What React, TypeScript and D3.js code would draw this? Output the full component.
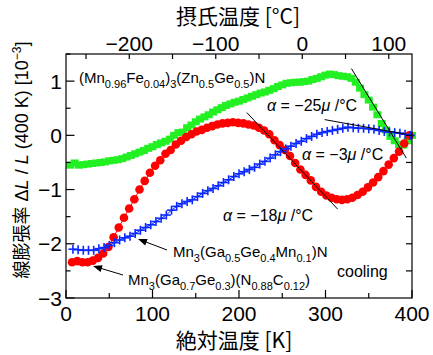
import React from "react";
import * as d3 from "d3";

// ---------- data ----------
const greenT = [5,10,15,20,25,30,35,40,45,50,55,60,65,70,75,80,85,90,95,100,105,110,115,120,125,130,135,140,145,150,155,160,165,170,175,180,185,190,195,200,205,210,215,220,225,230,235,240,245,250,255,260,265,270,275,280,285,290,295,300,305,310,315,320,325,330,335,340,345,350,355,360,365,370,375,380,385,390,395,400];
const greenV = [-0.55,-0.51,-0.55,-0.54,-0.53,-0.52,-0.51,-0.50,-0.49,-0.47,-0.46,-0.45,-0.43,-0.40,-0.37,-0.34,-0.31,-0.28,-0.24,-0.21,-0.17,-0.14,-0.11,-0.07,0.0,0.05,0.06,0.14,0.19,0.25,0.30,0.34,0.38,0.43,0.47,0.51,0.55,0.58,0.61,0.63,0.66,0.69,0.72,0.75,0.78,0.80,0.83,0.86,0.90,0.93,0.96,0.97,0.98,0.98,0.99,1.00,1.03,1.05,1.08,1.11,1.13,1.12,1.10,1.09,1.08,1.05,0.98,0.87,0.75,0.65,0.52,0.38,0.22,0.10,-0.02,-0.10,-0.17,-0.18,-0.10,0.0];

const redT = [7,13,19,25,31,37,43,49,55,61,67,73,79,85,91,97,103,109,115,121,127,133,139,145,151,157,163,169,175,181,187,193,199,205,211,217,223,229,235,241,247,253,259,265,271,277,283,289,295,301,307,313,319,325,331,337,343,349,355,361,367,373,379,385,391,397];
const redV = [-2.34,-2.32,-2.34,-2.34,-2.31,-2.26,-2.18,-2.06,-1.88,-1.70,-1.52,-1.35,-1.18,-1.00,-0.84,-0.69,-0.56,-0.46,-0.34,-0.27,-0.17,-0.10,-0.03,0.02,0.07,0.10,0.14,0.17,0.20,0.22,0.23,0.24,0.23,0.22,0.20,0.18,0.14,0.09,0.02,-0.09,-0.18,-0.27,-0.38,-0.51,-0.63,-0.73,-0.83,-0.95,-1.04,-1.11,-1.15,-1.18,-1.19,-1.18,-1.15,-1.10,-1.04,-0.96,-0.87,-0.77,-0.66,-0.54,-0.42,-0.30,-0.15,0.0];

const blueT = [8,14,20,26,32,38,44,50,56,62,68,74,80,86,92,98,104,110,116,122,128,134,140,146,152,158,164,170,176,182,188,194,200,206,212,218,224,230,236,242,248,254,260,266,272,278,284,290,296,302,308,314,320,326,332,338,344,350,356,362,368,374,380,386,392,398];
const blueV = [-2.10,-2.11,-2.12,-2.12,-2.12,-2.09,-2.07,-2.03,-1.98,-1.93,-1.89,-1.86,-1.81,-1.75,-1.70,-1.65,-1.59,-1.53,-1.47,-1.38,-1.31,-1.26,-1.22,-1.19,-1.13,-1.07,-1.02,-0.98,-0.93,-0.87,-0.82,-0.76,-0.71,-0.67,-0.63,-0.59,-0.53,-0.48,-0.42,-0.36,-0.30,-0.25,-0.20,-0.15,-0.11,-0.06,-0.02,0.02,0.05,0.07,0.09,0.11,0.13,0.15,0.14,0.13,0.13,0.12,0.11,0.09,0.07,0.06,0.05,0.04,0.02,0.0];

// tangent lines [T1, V1, T2, V2]
const tangents = [
  [330, 1.23, 393.5, -0.42],
  [299, 0.29, 393, 0.02],
  [209, 0.42, 314, -1.36],
];

const xTicksMajor = [0, 100, 200, 300, 400];
const xTicksMinor = [50, 150, 250, 350];
const cTicks = [-250, -200, -150, -100, -50, 0, 50, 100];
const cLabels = [-200, -100, 0, 100];
const yTicksMajor = [-3, -2, -1, 0, 1];
const yTicksMinor = [-2.5, -1.5, -0.5, 0.5, 1.5];
const yTicksRight = [-2.5, -2, -1.5, -1, -0.5, 0, 0.5, 1];

// ---------- layout ----------
const W = 433, H = 355;
const L = 66, R = 412, T = 54, B = 298;
const x = d3.scaleLinear().domain([0, 400]).range([L, R]);
const xc = d3.scaleLinear().domain([-273.15, 126.85]).range([L, R]);
const y = d3.scaleLinear().domain([-3, 1.5]).range([B, T]);

const NUM = "'Liberation Sans', Arial, sans-serif";
const JP = "'Noto Sans CJK JP', 'Liberation Sans', sans-serif";

type Seg = { t: string; s?: "sub" | "sup"; i?: boolean };

function Formula({ segs, xPos, yPos, size, subSize }: { segs: Seg[]; xPos: number; yPos: number; size: number; subSize: number }) {
  let cur = 0;
  const out: React.ReactNode[] = [];
  segs.forEach((g, k) => {
    const target = g.s === "sub" ? size * 0.3 : g.s === "sup" ? -size * 0.42 : 0;
    const dy = target - cur;
    cur = target;
    out.push(
      <tspan key={k} dy={dy} fontSize={g.s ? subSize : size} fontStyle={g.i ? "italic" : "normal"}>
        {g.t}
      </tspan>
    );
  });
  return (
    <text x={xPos} y={yPos} fontFamily={NUM} fill="#000">
      {out}
    </text>
  );
}

export default function App() {
  const greenPts = greenT.map((t, i) => [x(t), y(greenV[i])]);
  const redPts = redT.map((t, i) => [x(t), y(redV[i])]);
  const bluePts = blueT.map((t, i) => [x(t), y(blueV[i])]);
  const line = d3.line();

  const cross = 4.5;

  return (
    <svg width={W} height={H} style={{ position: "absolute", left: 0, top: 0, background: "#fff" }}>
      <rect x={0} y={0} width={W} height={H} fill="#fff" />
      {/* data */}
      <g>
        {greenPts.map(([px, py], i) => (
          <rect key={i} x={px - 4} y={py - 3.5} width={8} height={7} fill="#22f022" />
        ))}
      </g>
      <path d={line(redPts as [number, number][]) || ""} fill="none" stroke="#ff0000" strokeWidth={1} />
      <g>
        {redPts.map(([px, py], i) => (
          <circle key={i} cx={px} cy={py} r={4.3} fill="#ff0000" />
        ))}
      </g>
      <path d={line(bluePts as [number, number][]) || ""} fill="none" stroke="#0a28ff" strokeWidth={1} />
      <g stroke="#0a28ff" strokeWidth={1.6}>
        {bluePts.map(([px, py], i) => (
          <g key={i}>
            <line x1={px - cross} x2={px + cross} y1={py} y2={py} />
            <line x1={px} x2={px} y1={py - cross} y2={py + cross} />
          </g>
        ))}
      </g>
      {/* tangents */}
      <g stroke="#000" strokeWidth={1}>
        {tangents.map((d, i) => (
          <line key={i} x1={x(d[0])} y1={y(d[1])} x2={x(d[2])} y2={y(d[3])} />
        ))}
      </g>

      {/* frame */}
      <rect x={L} y={T} width={R - L} height={B - T} fill="none" stroke="#000" strokeWidth={1.2} />
      <g stroke="#000" strokeWidth={1.2}>
        {xTicksMajor.map((t) => (
          <line key={"xM" + t} x1={x(t)} x2={x(t)} y1={B} y2={B - 8} />
        ))}
        {xTicksMinor.map((t) => (
          <line key={"xm" + t} x1={x(t)} x2={x(t)} y1={B} y2={B - 5} />
        ))}
        {cTicks.map((t) => (
          <line key={"c" + t} x1={xc(t)} x2={xc(t)} y1={T} y2={T + 5} />
        ))}
        {yTicksMajor.map((t) => (
          <line key={"yM" + t} x1={L} x2={L + 8.5} y1={y(t)} y2={y(t)} />
        ))}
        {yTicksMinor.map((t) => (
          <line key={"ym" + t} x1={L} x2={L + 4.5} y1={y(t)} y2={y(t)} />
        ))}
        {yTicksRight.map((t) => (
          <line key={"yr" + t} x1={R} x2={R - 6} y1={y(t)} y2={y(t)} />
        ))}
      </g>

      {/* tick labels */}
      <g fontFamily={NUM} fontSize={21} fill="#000">
        {xTicksMajor.map((t) => (
          <text key={"xl" + t} x={x(t)} y={321} textAnchor="middle">{t}</text>
        ))}
        {cLabels.map((t) => (
          <text key={"cl" + t} x={xc(t)} y={51} textAnchor="middle">{t < 0 ? "\u2212" + Math.abs(t) : t}</text>
        ))}
        {yTicksMajor.map((t) => (
          <text key={"yl" + t} x={62} y={y(t) + 7.5} textAnchor="end">{t < 0 ? "\u2212" + Math.abs(t) : t}</text>
        ))}
      </g>

      {/* axis titles */}
      <text x={238} y={24} textAnchor="middle" fontFamily={JP} fontSize={21} fill="#000">摂氏温度 [°C]</text>
      <text x={234} y={348} textAnchor="middle" fontFamily={JP} fontSize={21} fill="#000">絶対温度 [K]</text>
      <text transform="translate(28,160) rotate(-90)" textAnchor="middle" fontFamily={JP} fontSize={18} fill="#000">
        <tspan>線膨張率</tspan>
        <tspan fontFamily={NUM}> Δ</tspan>
        <tspan fontFamily={NUM} fontStyle="italic">L</tspan>
        <tspan fontFamily={NUM}> / </tspan>
        <tspan fontFamily={NUM} fontStyle="italic">L</tspan>
        <tspan fontFamily={NUM}> (400 K) [10</tspan>
        <tspan fontFamily={NUM} fontSize={12} dy={-7}>−3</tspan>
        <tspan fontFamily={NUM} dy={7}>]</tspan>
      </text>

      {/* annotations */}
      <Formula xPos={79} yPos={83} size={15} subSize={11}
        segs={[{ t: "(Mn" }, { t: "0.96", s: "sub" }, { t: "Fe" }, { t: "0.04", s: "sub" }, { t: ")" }, { t: "3", s: "sub" }, { t: "(Zn" }, { t: "0.5", s: "sub" }, { t: "Ge" }, { t: "0.5", s: "sub" }, { t: ")N" }]} />
      <Formula xPos={173} yPos={257} size={15} subSize={11}
        segs={[{ t: "Mn" }, { t: "3", s: "sub" }, { t: "(Ga" }, { t: "0.5", s: "sub" }, { t: "Ge" }, { t: "0.4", s: "sub" }, { t: "Mn" }, { t: "0.1", s: "sub" }, { t: ")N" }]} />
      <Formula xPos={128} yPos={285} size={15} subSize={11}
        segs={[{ t: "Mn" }, { t: "3", s: "sub" }, { t: "(Ga" }, { t: "0.7", s: "sub" }, { t: "Ge" }, { t: "0.3", s: "sub" }, { t: ")(N" }, { t: "0.88", s: "sub" }, { t: "C" }, { t: "0.12", s: "sub" }, { t: ")" }]} />
      <g fontFamily={NUM} fontSize={16} fill="#000">
        <text x={267} y={111}><tspan fontStyle="italic">α</tspan> = −25<tspan fontStyle="italic">μ</tspan> /°C</text>
        <text x={302} y={160}><tspan fontStyle="italic">α</tspan> = −3<tspan fontStyle="italic">μ</tspan> /°C</text>
        <text x={223} y={221}><tspan fontStyle="italic">α</tspan> = −18<tspan fontStyle="italic">μ</tspan> /°C</text>
        <text x={337} y={277}>cooling</text>
      </g>

      {/* arrows */}
      <g stroke="#000" strokeWidth={1}>
        <line x1={167} y1={250} x2={142} y2={240.5} />
        <line x1={123} y1={275} x2={97} y2={267.2} />
      </g>
      <g fill="#000">
        <polygon points={arrow(167, 250, 138, 239)} />
        <polygon points={arrow(123, 275, 93, 266)} />
      </g>
    </svg>
  );
}

function arrow(x1: number, y1: number, x2: number, y2: number) {
  const a = Math.atan2(y2 - y1, x2 - x1);
  const len = 9, w = 3.5;
  const bx = x2 - len * Math.cos(a), by = y2 - len * Math.sin(a);
  const nx = -Math.sin(a) * w, ny = Math.cos(a) * w;
  return `${x2},${y2} ${bx + nx},${by + ny} ${bx - nx},${by - ny}`;
}
